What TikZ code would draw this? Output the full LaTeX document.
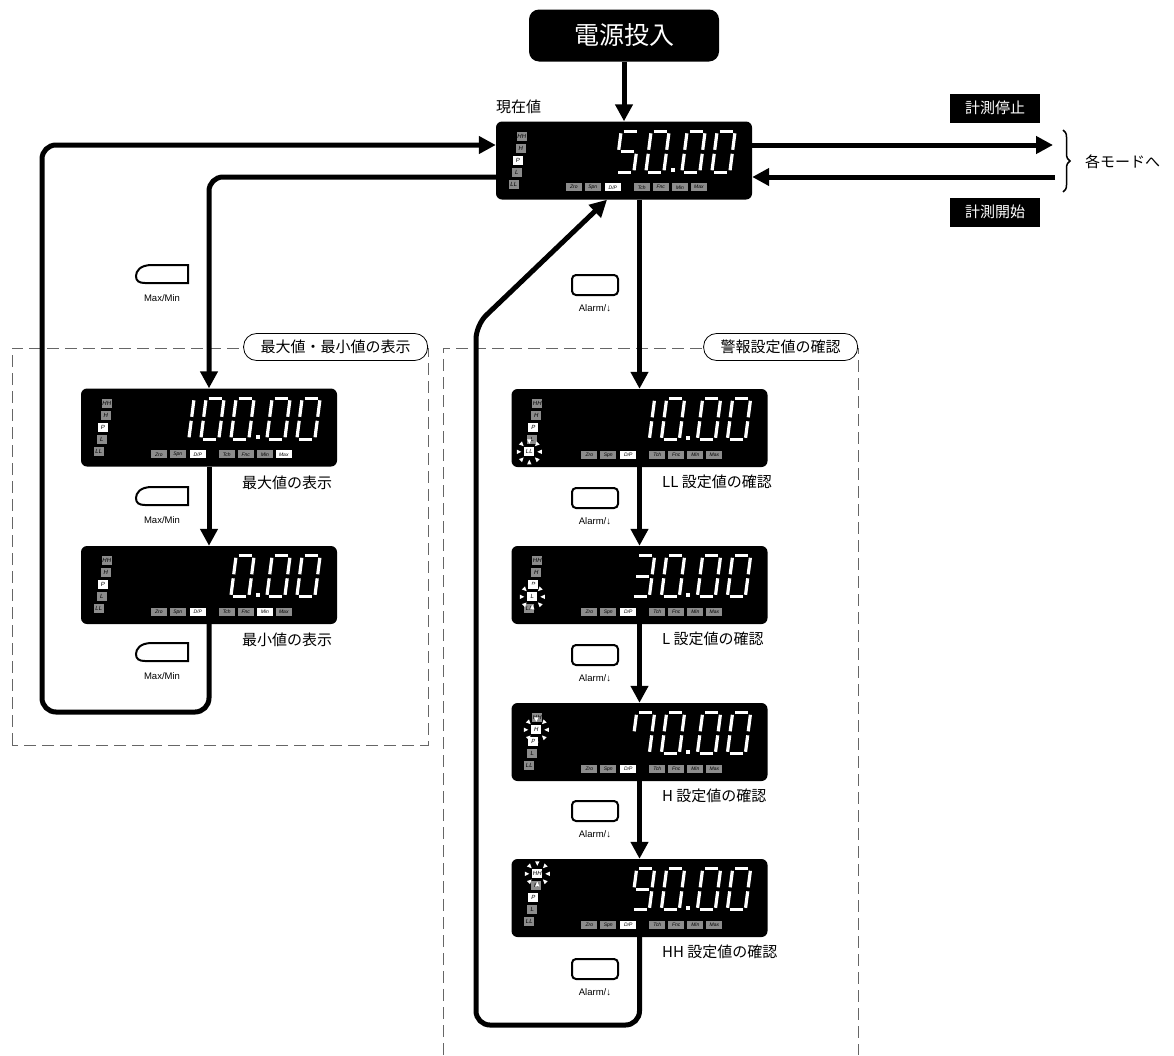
\documentclass[tikz,border=0pt]{standalone}
\usepackage{fontspec}
\setmainfont{Noto Sans CJK JP}
\newfontfamily\latinfont{Liberation Sans}
\usetikzlibrary{arrows.meta,positioning,calc,decorations.pathreplacing}

\newcommand\jpsize{\fontsize{15}{18}\selectfont}

% seven segment readout
\def\sgma{(2.5,41)--(15.5,41)}
\def\sgmb{(18,39)--(18,22.5)}
\def\sgmc{(18,18.5)--(18,2)}
\def\sgmd{(2.5,0)--(15.5,0)}
\def\sgme{(0,2)--(0,18.5)}
\def\sgmf{(0,22.5)--(0,39)}
\def\sgmg{(2.5,20.5)--(15.5,20.5)}
\expandafter\def\csname dig0\endcsname{a,b,c,d,e,f}
\expandafter\def\csname dig1\endcsname{b,c}
\expandafter\def\csname dig3\endcsname{a,b,c,d,g}
\expandafter\def\csname dig5\endcsname{a,c,d,f,g}
\expandafter\def\csname dig7\endcsname{a,b,c,f}
\expandafter\def\csname dig9\endcsname{a,b,c,d,f,g}

\newcommand\sevenseg[2]{%
  \begin{scope}[shift={#1},x=1pt,y=1pt,xslant=0.13]
    \foreach \s in #2 {%
      \expandafter\let\expandafter\segp\csname sgm\s\endcsname
      \draw[segline] \segp;}
  \end{scope}}

% display panel: name, centre, digits (digit/index from the right)
\newcommand\panel[3]{%
  \node[panel] (#1) at (#2) {};
  \begin{scope}[shift={(#1.north west)}]
    \foreach \lab/\dx/\dy/\fc in {HH/26/15/black!45,H/25/27/black!45,P/22/39/white,L/21/51/black!45,LL/18/63/black!45}
      \node[ind,fill=\fc] (#1-\lab) at (\dx,\dy) {\lab};
    \foreach \key/\lab/\dx/\fc in {zro/Zro/78/black!45,spn/Spn/97/black!45,dp/{D/P}/117/white,
        tch/Tch/146/black!45,fnc/Fnc/165/black!45,mn/Min/184/black!45,max/Max/203/black!45}
      \node[bind,fill=\fc] (#1-\key) at (\dx,66) {\lab};
    \foreach \d/\i in {#3}{%
      \pgfmathsetmacro\dx{216-30*\i-(\i>1?6:0)}
      \edef\segs{\csname dig\d\endcsname}
      \sevenseg{(\dx,51)}{\segs}}
    \fill[white] (175,47) rectangle (179,51);
  \end{scope}}

% blinking indicator
\newcommand\blinkind[2]{%
  \node[ind,fill=white] at (#1) {#2};
  \foreach \a in {0,45,...,315}
    \fill[white,shift={(#1)},rotate=\a] (8,0) -- (12.5,2.2) -- (12.5,-2.2) -- cycle;}

% buttons
\newcommand\maxminbtn[2]{%
  \draw[line width=2pt,shift={(#2)}] (27,-9) -- (-9,-9)
    .. controls (-21,-9) and (-25,-3) .. (-25,2)
    .. controls (-25,7) and (-22,9) .. (-16,9) -- (27,9) -- cycle;
  \node[btntext] (#1) at ([xshift=1pt,yshift=-24pt]#2) {Max/Min};}
\newcommand\alarmbtn[2]{%
  \node[alarmkey] (#1-key) at (#2) {};
  \node[btntext] (#1) at ([yshift=-23pt]#2) {Alarm/↓};}

\begin{document}
\begin{tikzpicture}[x=1pt,y=-1pt,
  panel/.style={fill=black,rounded corners=6pt,minimum width=256pt,minimum height=78pt,inner sep=0pt},
  segline/.style={white,line width=3.2pt},
  ind/.style={fill=black!45,text=black,inner sep=0pt,minimum width=10pt,minimum height=9pt,
    font=\latinfont\itshape\fontsize{6}{6}\selectfont},
  bind/.style={ind,minimum width=16pt,minimum height=8pt,font=\latinfont\itshape\fontsize{5}{5}\selectfont},
  powerbox/.style={fill=black,text=white,rounded corners=10pt,minimum width=190pt,minimum height=52pt,
    font=\fontsize{25}{30}\selectfont},
  tagbox/.style={fill=black,text=white,minimum width=90pt,minimum height=29pt,inner sep=0pt,font=\jpsize},
  pill/.style={draw,fill=white,line width=0.8pt,rounded corners=13pt,minimum height=27pt,inner xsep=17pt,
    inner ysep=0pt,font=\jpsize},
  lbl/.style={inner sep=0pt,font=\jpsize},
  btntext/.style={inner sep=0pt,font=\latinfont\fontsize{9.5}{10}\selectfont},
  alarmkey/.style={draw,line width=2pt,rounded corners=4pt,minimum width=46pt,minimum height=20pt,inner sep=0pt},
  flow/.style={line width=5pt,-{Triangle[length=17pt,width=17pt]}},
  dashbox/.style={draw=black!60,line width=1pt,dash pattern=on 12pt off 6pt}]
  \useasboundingbox (0,0) rectangle (1174,1055);

  % mode frames
  \draw[dashbox] (12,745) rectangle (428,348);
  \draw[dashbox] (443,1055) |- (858,348) -- (858,1055);
  \node[pill,anchor=east] (maxminttl) at (428,347) {最大値・最小値の表示};
  \node[pill,anchor=east] (alarmttl) at (858,347) {警報設定値の確認};

  % start
  \node[powerbox] (power) at (624,35.5) {電源投入};

  % displays
  \panel{main}{624,160.5}{5/3,0/2,0/1,0/0}
  \panel{maxD}{209,427.5}{1/4,0/3,0/2,0/1,0/0}
  \panel{minD}{209,585}{0/2,0/1,0/0}
  \panel{ll}{639.5,428}{1/3,0/2,0/1,0/0}
  \panel{l}{639.5,585}{3/3,0/2,0/1,0/0}
  \panel{h}{639.5,742}{7/3,0/2,0/1,0/0}
  \panel{hh}{639.5,898}{9/3,0/2,0/1,0/0}
  \node[bind,fill=white] at (maxD-max) {Max};
  \node[bind,fill=white] at (minD-mn) {Min};
  \blinkind{ll-LL}{LL}
  \blinkind{l-L}{L}
  \blinkind{h-H}{H}
  \blinkind{hh-HH}{HH}

  % labels
  \node[lbl,anchor=west] (curlbl) at ([yshift=14pt]main.north west) {現在値};
  \node[lbl,anchor=west] (maxlbl) at ([xshift=33pt,yshift=-16pt]maxD.south) {最大値の表示};
  \node[lbl,anchor=west] (minlbl) at ([xshift=33pt,yshift=-16pt]minD.south) {最小値の表示};
  \node[lbl,anchor=west] (lllbl) at ([xshift=22.5pt,yshift=-15pt]ll.south) {LL 設定値の確認};
  \node[lbl,anchor=west] (llbl) at ([xshift=22.5pt,yshift=-15pt]l.south) {L 設定値の確認};
  \node[lbl,anchor=west] (hlbl) at ([xshift=22.5pt,yshift=-15pt]h.south) {H 設定値の確認};
  \node[lbl,anchor=west] (hhlbl) at ([xshift=22.5pt,yshift=-15pt]hh.south) {HH 設定値の確認};

  % measuring stop / start
  \node[tagbox] (stop) at (995,108) {計測停止};
  \node[tagbox] (start) at (995,212) {計測開始};
  \coordinate (stopend) at (1053,145);
  \coordinate (startend) at (1055,177);
  \draw[flow] (main.east |- stopend) -- (stopend);
  \draw[flow] (startend) -- (startend -| main.east);
  \draw[line width=1.5pt,decorate,decoration={brace,amplitude=7pt}] (1063,130) -- (1063,192);
  \node[lbl,anchor=west] (modes) at (1085,162) {各モードへ};

  % buttons
  \maxminbtn{mm1}{161,274}
  \maxminbtn{mm2}{161,496}
  \maxminbtn{mm3}{161,652}
  \alarmbtn{al1}{595,285}
  \alarmbtn{al2}{595,498}
  \alarmbtn{al3}{595,655}
  \alarmbtn{al4}{595,811}
  \alarmbtn{al5}{595,969}

  % flow
  \draw[flow] (power.south) -- (main.north);
  \draw[flow,rounded corners=14pt] (main.west |- 0,177) -| (maxD.north);
  \draw[flow] (maxD) -- (minD);
  \coordinate (llb) at (42,712);
  \coordinate (llt) at (42,145);
  \draw[flow,rounded corners=14pt] (minD.south) |- (llb) -- (llt) -- (llt -| main.west);
  \draw[flow] (main.south -| ll.north) -- (ll.north);
  \draw[flow] (ll) -- (l);
  \draw[flow] (l) -- (h);
  \draw[flow] (h) -- (hh);
  \coordinate (rlb) at (476,1025);
  \coordinate (rlt) at (476,325);
  \draw[flow,rounded corners=14pt] (hh.south) |- (rlb) -- (rlt) -- (main.south -| 607,0);
\end{tikzpicture}
\end{document}
